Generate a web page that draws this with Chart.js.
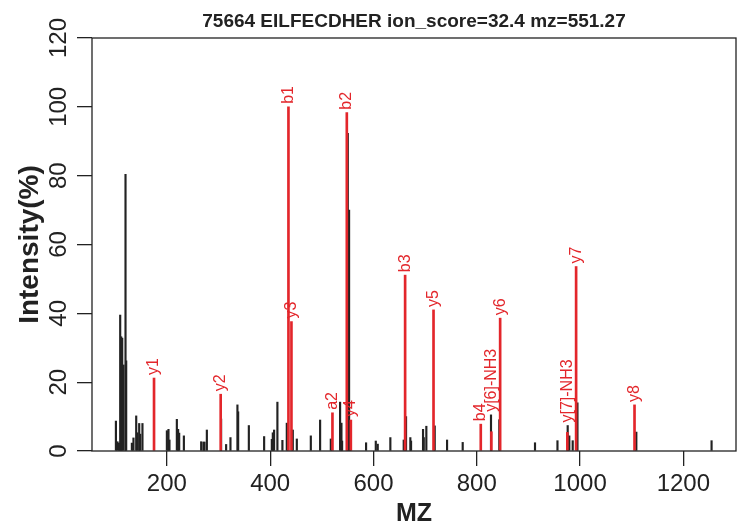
<!DOCTYPE html>
<html>
<head>
<meta charset="utf-8">
<title>75664 EILFECDHER</title>
<script src="https://cdn.jsdelivr.net/npm/chart.js@4.4.0/dist/chart.umd.min.js"></script>
<style>
  html, body { margin: 0; padding: 0; background: #fff; }
  #wrap { width: 745px; height: 529px; }
</style>
</head>
<body>
<div id="wrap"><canvas id="spectrum" width="745" height="529"></canvas></div>
<script>
// unmatched peaks (black sticks): m/z and relative intensity (%)
var peakMz = [101.3, 104.4, 107.1, 109.6, 111.5, 113.5, 116.0, 119.9, 121.2, 132.2,
              135.3, 140.6, 143.1, 146.4, 148.3, 152.7, 200.0, 203.1, 205.0, 219.3,
              221.8, 223.8, 232.9, 266.4, 270.8, 272.8, 277.4, 305.0, 314.7, 323.1,
              336.6, 338.0, 358.7, 388.3, 403.2, 405.1, 407.6, 414.0, 423.7, 432.2,
              443.8, 451.6, 478.7, 496.7, 517.4, 535.4, 538.0, 539.3, 550.3, 552.8,
              554.7, 585.7, 604.5, 608.3, 632.7, 658.6, 663.1, 671.4, 672.8, 696.0,
              697.4, 702.4, 718.6, 742.5, 772.8, 827.6, 843.7, 912.8, 956.3, 976.1,
              979.2, 985.8, 995.0, 1109.0, 1254.7];
var peakInt = [8.7, 2.7, 2.3, 39.5, 33.2, 32.8, 25.0, 80.4, 26.2, 2.3,
               3.8, 10.2, 5.3, 8.0, 4.9, 8.0, 5.9, 6.3, 3.2, 9.2,
               6.3, 5.2, 4.4, 2.7, 2.6, 2.6, 6.1, 9.3, 1.9, 3.9,
               13.4, 11.4, 7.4, 4.2, 3.4, 5.3, 6.1, 14.2, 3.1, 8.1,
               6.1, 3.5, 4.4, 9.0, 3.5, 14.2, 8.1, 2.9, 92.3, 70.0,
               4.4, 2.4, 2.9, 2.0, 3.9, 3.2, 10.0, 3.9, 2.9, 6.3,
               3.9, 7.2, 7.3, 3.2, 2.5, 10.5, 9.1, 2.4, 3.0, 7.4,
               4.4, 3.0, 14.0, 5.5, 3.0];

// matched fragment ions (red sticks)
var ionLabels = ['y1', 'y2', 'b1', 'y3', 'a2', 'b2', 'y4', 'b3', 'y5', 'b4',
                 'y[6]-NH3', 'y6', 'y[7]-NH3', 'y7', 'y8'];
var ionMz = [175.1, 304.2, 435.4, 441.2, 520.6, 548.4, 556.2, 661.3, 716.3, 807.8,
             828.3, 845.3, 975.4, 992.4, 1105.5];
var ionInt = [21.2, 16.5, 100.0, 37.6, 11.1, 98.3, 9.0, 51.1, 41.0, 7.8,
              5.6, 38.6, 5.4, 53.6, 13.4];

var xTicks = [200, 400, 600, 800, 1000, 1200];
var yTicks = [0, 20, 40, 60, 80, 100, 120];

var ink = '#222222';
var red = '#e3262b';
var fontFamily = "'Liberation Sans', Arial, Helvetica, sans-serif";

function toPoints(xs, ys) {
    return xs.map(function(x, i) { return { x: x, y: ys[i] }; });
}

// box round the plot, title, rotated y labels and ion annotations
var spectrumDecor = {
    id: 'spectrumDecor',
    afterDatasetsDraw: function(chart) {
        var ctx = chart.ctx;
        var xs = chart.scales.x, ys = chart.scales.y;
        ctx.save();
        ctx.fillStyle = red;
        ctx.font = '16px ' + fontFamily;
        ctx.textAlign = 'left';
        ctx.textBaseline = 'middle';
        ionLabels.forEach(function(lab, i) {
            // sit the label above the tallest stick at that m/z
            var top = ionInt[i];
            peakMz.forEach(function(m, j) {
                if (Math.abs(m - ionMz[i]) < 1 && peakInt[j] > top) top = peakInt[j];
            });
            var px = xs.getPixelForValue(ionMz[i]);
            var py = ys.getPixelForValue(top) - 3;
            ctx.save();
            ctx.translate(px, py);
            ctx.rotate(-Math.PI / 2);
            ctx.fillText(lab, 0, 0);
            ctx.restore();
        });
        ctx.restore();
    },
    afterDraw: function(chart) {
        var ctx = chart.ctx;
        var a = chart.chartArea;
        var ys = chart.scales.y;
        var midX = (a.left + a.right) / 2;
        ctx.save();
        ctx.strokeStyle = ink;
        ctx.lineWidth = 1.3;
        ctx.strokeRect(a.left, a.top, a.right - a.left, a.bottom - a.top);

        ctx.fillStyle = ink;
        ctx.textAlign = 'center';
        ctx.textBaseline = 'middle';
        ctx.font = 'bold 19px ' + fontFamily;
        ctx.fillText('75664 EILFECDHER ion_score=32.4 mz=551.27', midX, 22);

        ctx.font = '24px ' + fontFamily;
        yTicks.forEach(function(v) {
            ctx.save();
            ctx.translate(59, ys.getPixelForValue(v));
            ctx.rotate(-Math.PI / 2);
            ctx.fillText(String(v), 0, 0);
            ctx.restore();
        });

        ctx.font = 'bold 28px ' + fontFamily;
        ctx.save();
        ctx.translate(30, (a.top + a.bottom) / 2);
        ctx.rotate(-Math.PI / 2);
        ctx.fillText('Intensity(%)', 0, 0);
        ctx.restore();
        ctx.restore();
    }
};

var ctx = document.getElementById('spectrum').getContext('2d');
var spectrumChart = new Chart(ctx, {
    type: 'bar',
    data: {
        datasets: [{
            label: 'matched ions',
            data: toPoints(ionMz, ionInt),
            backgroundColor: red,
            barThickness: 2,
            grouped: false,
            order: 0
        }, {
            label: 'peaks',
            data: toPoints(peakMz, peakInt),
            backgroundColor: ink,
            barThickness: 1.5,
            grouped: false,
            order: 1
        }]
    },
    options: {
        responsive: false,
        animation: false,
        devicePixelRatio: 1,
        layout: { padding: { left: 0, right: 9, top: 38, bottom: 0 } },
        plugins: {
            legend: { display: false },
            tooltip: { enabled: false },
            title: { display: false }
        },
        scales: {
            x: {
                type: 'linear',
                min: 55,
                max: 1302,
                offset: false,
                afterBuildTicks: function(s) { s.ticks = xTicks.map(function(v) { return { value: v }; }); },
                afterFit: function(s) { s.height = 78; },
                grid: { offset: false, drawOnChartArea: false, drawTicks: true, tickLength: 15, color: ink, lineWidth: 1.3 },
                border: { display: false },
                ticks: {
                    color: ink,
                    font: { family: fontFamily, size: 24 },
                    padding: 4,
                    maxRotation: 0,
                    autoSkip: false,
                    callback: function(v) { return String(v); }
                },
                title: { display: true, text: 'MZ', color: ink, font: { family: fontFamily, size: 25, weight: 'bold', lineHeight: 1.2 }, padding: 0 }
            },
            y: {
                min: 0,
                max: 120,
                afterBuildTicks: function(s) { s.ticks = yTicks.map(function(v) { return { value: v }; }); },
                afterFit: function(s) { s.width = 92; },
                grid: { drawOnChartArea: false, drawTicks: true, tickLength: 15, color: ink, lineWidth: 1.3 },
                border: { display: false },
                ticks: { display: false }
            }
        }
    },
    plugins: [spectrumDecor]
});
</script>
</body>
</html>
